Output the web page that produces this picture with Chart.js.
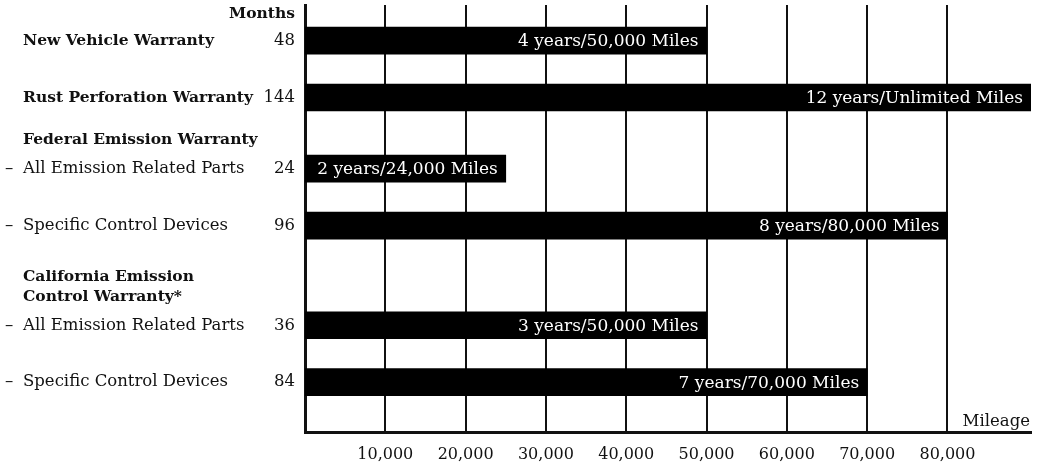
<!DOCTYPE html>
<html>
<head>
<meta charset="utf-8">
<script src="https://cdn.jsdelivr.net/npm/chart.js@4"></script>
<style>
  html, body { margin: 0; padding: 0; background: #fff; }
  #wrap { width: 1041px; height: 465px; }
</style>
</head>
<body>
<div id="wrap"><canvas id="warrantyChart"></canvas></div>
<script>
// rows of the chart, top to bottom (empty rows are spacing)
var categories = [
  'Months', '', 'New Vehicle Warranty', '', '', '', 'Rust Perforation Warranty', '', '',
  'Federal Emission Warranty', '', '– All Emission Related Parts', '', '', '', '– Specific Control Devices',
  '', '', '', 'California Emission|Control Warranty*', '', '', '– All Emission Related Parts', '', '', '',
  '– Specific Control Devices', '', '', ''
];
var months = [
  null, null, 48, null, null, null, 144, null, null,
  null, null, 24, null, null, null, 96,
  null, null, null, null, null, null, 36, null, null, null,
  84, null, null, null
];
var mileage = [
  null, null, 50000, null, null, null, 90400, null, null,
  null, null, 25000, null, null, null, 80000,
  null, null, null, null, null, null, 50000, null, null, null,
  70000, null, null, null
];
var barLabels = [
  '', '', '4 years/50,000 Miles', '', '', '', '12 years/Unlimited Miles', '', '',
  '', '', '2 years/24,000 Miles', '', '', '', '8 years/80,000 Miles',
  '', '', '', '', '', '', '3 years/50,000 Miles', '', '', '',
  '7 years/70,000 Miles', '', '', ''
];
var boldRows = ['Months', 'New Vehicle Warranty', 'Rust Perforation Warranty', 'Federal Emission Warranty', 'California Emission|Control Warranty*'];
var tickValues = [10000, 20000, 30000, 40000, 50000, 60000, 70000, 80000];
var tickLabels = ['10,000', '20,000', '30,000', '40,000', '50,000', '60,000', '70,000', '80,000'];

var FONT = '"DejaVu Serif", serif';

// draws the row names, months column, bar texts and the Mileage label
var textPlugin = {
  id: 'warrantyText',
  afterDatasetsDraw: function(chart) {
    var ctx = chart.ctx;
    var yScale = chart.scales.y;
    var area = chart.chartArea;
    ctx.save();
    ctx.textBaseline = 'middle';
    ctx.fillStyle = '#111';

    for (var i = 0; i < categories.length; i++) {
      var name = categories[i];
      var y = yScale.getPixelForValue(i);
      if (name === 'Months') {
        ctx.font = 'bold 15.5px ' + FONT;
        ctx.textAlign = 'right';
        ctx.fillText(name, 295, y + 2);
        continue;
      }
      if (name) {
        var bold = boldRows.indexOf(name) !== -1;
        ctx.font = bold ? 'bold 15.5px ' + FONT : '16.5px ' + FONT;
        ctx.textAlign = 'left';
        var text = name;
        if (text.indexOf('– ') === 0) {
          ctx.fillText('–', 5, y);
          text = text.slice(2);
        }
        var lines = text.split('|');
        var start = lines.length > 1 ? y - 6 : y;
        for (var k = 0; k < lines.length; k++) {
          ctx.fillText(lines[k], 23, start + k * 20);
        }
      }
      if (months[i] !== null) {
        ctx.font = '16.5px ' + FONT;
        ctx.textAlign = 'right';
        ctx.fillText(String(months[i]), 295, y);
      }
    }

    // white texts at the end of each bar
    var meta = chart.getDatasetMeta(0);
    ctx.font = '17px ' + FONT;
    ctx.fillStyle = '#fff';
    ctx.textAlign = 'right';
    for (var j = 0; j < meta.data.length; j++) {
      if (mileage[j] === null) continue;
      var bar = meta.data[j];
      ctx.fillText(barLabels[j], bar.x - 8, bar.y + 1);
    }

    ctx.fillStyle = '#111';
    ctx.font = '16.5px ' + FONT;
    ctx.textAlign = 'right';
    ctx.fillText('Mileage', area.right - 1, yScale.getPixelForValue(29) - 3);
    ctx.restore();
  }
};

var ctx = document.getElementById('warrantyChart').getContext('2d');
new Chart(ctx, {
  type: 'bar',
  data: {
    labels: categories,
    datasets: [{
      data: mileage,
      backgroundColor: '#000',
      borderWidth: 0,
      barThickness: 27
    }]
  },
  options: {
    indexAxis: 'y',
    responsive: true,
    maintainAspectRatio: false,
    animation: false,
    layout: { padding: { left: 297, right: 10, top: 5, bottom: 0 } },
    plugins: { legend: { display: false }, tooltip: { enabled: false } },
    scales: {
      x: {
        min: 0,
        max: 90400,
        afterBuildTicks: function(axis) {
          axis.ticks = tickValues.map(function(v) { return { value: v }; });
        },
        afterFit: function(axis) { axis.height = 33; },
        grid: { color: '#111', lineWidth: 2, drawTicks: false },
        border: { display: true, color: '#111', width: 3 },
        ticks: {
          color: '#111',
          padding: 13,
          maxRotation: 0,
          font: { family: FONT, size: 16 },
          callback: function(value, index) { return tickLabels[index]; }
        }
      },
      y: {
        grid: { display: false },
        border: { display: true, color: '#111', width: 3 },
        ticks: { display: false }
      }
    }
  },
  plugins: [textPlugin]
});
</script>
</body>
</html>
